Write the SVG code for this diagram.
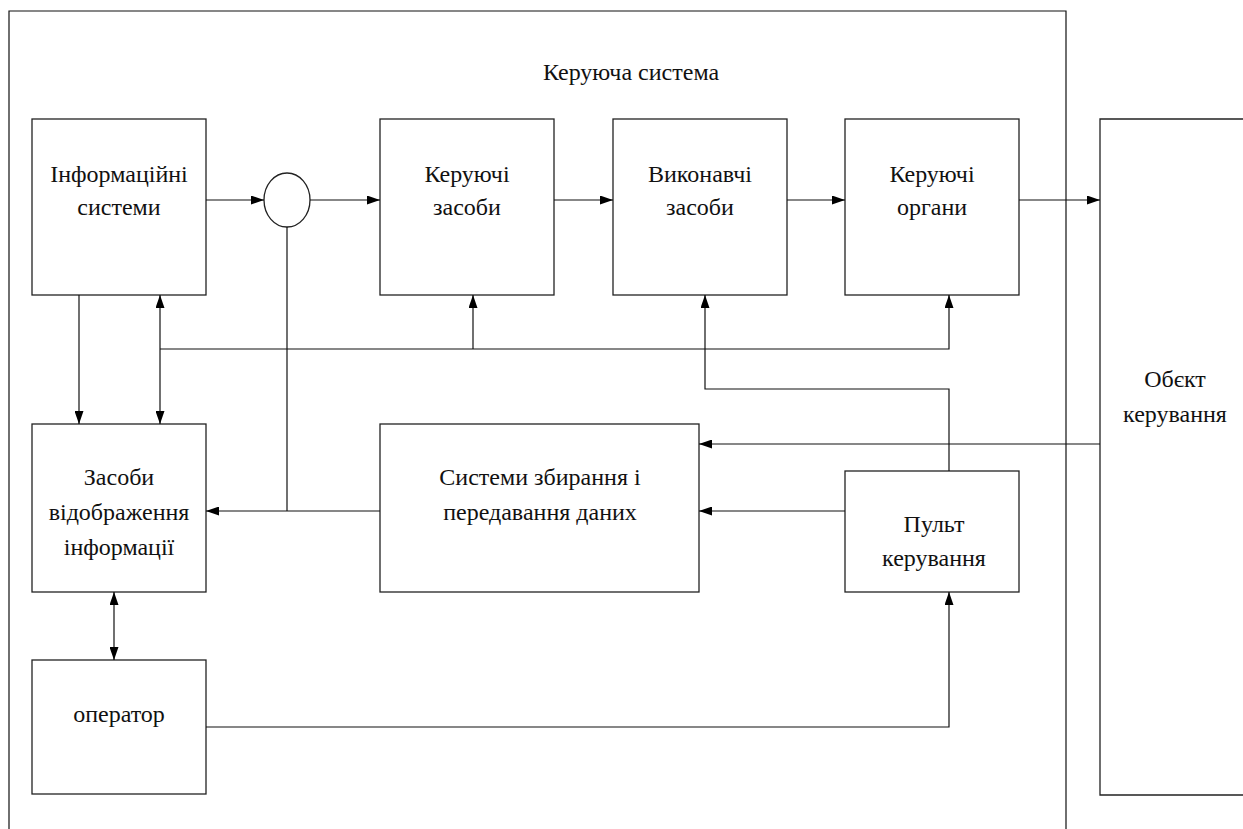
<svg xmlns="http://www.w3.org/2000/svg" width="1243" height="829" viewBox="0 0 1243 829" font-family="Liberation Serif, DejaVu Serif, serif">
<style>
.box{fill:#fff;stroke:#222;stroke-width:1.3}
.ln{fill:none;stroke:#111;stroke-width:1.2}
text{font-family:"Liberation Serif",serif;font-size:24px;fill:#111;text-anchor:middle}
</style>
<defs>
<marker id="ah" viewBox="0 0 13 9" refX="13" refY="4.5" markerWidth="13" markerHeight="9" markerUnits="userSpaceOnUse" orient="auto-start-reverse">
<path d="M0,0 L13,4.5 L0,9 Z" fill="#000"/>
</marker>
</defs>
<rect width="1243" height="829" fill="#fff"/>
<g id="outer">
<path class="ln" d="M9,829 V11 H1066 V829"/>
<text x="631" y="80" font-family="Liberation Serif">Керуюча система</text>
</g>
<g id="obj">
<path class="box" d="M1250,119 H1100 V795 H1250"/>
<text x="1175" y="387">Обєкт</text>
<text x="1175" y="422">керування</text>
</g>
<g id="info">
<rect class="box" x="32" y="119" width="174" height="176"/>
<text x="119" y="182">Інформаційні</text>
<text x="119" y="215">системи</text>
</g>
<g id="sum">
<ellipse class="box" cx="287" cy="200" rx="23" ry="27"/>
</g>
<g id="kz">
<rect class="box" x="380" y="119" width="174" height="176"/>
<text x="467" y="182">Керуючі</text>
<text x="467" y="215">засоби</text>
</g>
<g id="vz">
<rect class="box" x="613" y="119" width="174" height="176"/>
<text x="700" y="182">Виконавчі</text>
<text x="700" y="215">засоби</text>
</g>
<g id="ko">
<rect class="box" x="845" y="119" width="174" height="176"/>
<text x="932" y="182">Керуючі</text>
<text x="932" y="215">органи</text>
</g>
<g id="zv">
<rect class="box" x="32" y="424" width="174" height="168"/>
<text x="119" y="485">Засоби</text>
<text x="119" y="520">відображення</text>
<text x="119" y="555">інформації</text>
</g>
<g id="sz">
<rect class="box" x="380" y="424" width="319" height="168"/>
<text x="540" y="485">Системи збирання і</text>
<text x="540" y="520">передавання даних</text>
</g>
<g id="pk">
<rect class="box" x="845" y="471" width="174" height="121"/>
<text x="934" y="532">Пульт</text>
<text x="934" y="566">керування</text>
</g>
<g id="op">
<rect class="box" x="32" y="660" width="174" height="134"/>
<text x="119" y="722">оператор</text>
</g>
<g id="connectors">
<path class="ln" d="M206,200 H264" marker-end="url(#ah)"/>
<path class="ln" d="M310,200 H380" marker-end="url(#ah)"/>
<path class="ln" d="M554,200 H613" marker-end="url(#ah)"/>
<path class="ln" d="M787,200 H845" marker-end="url(#ah)"/>
<path class="ln" d="M1019,200 H1100" marker-end="url(#ah)"/>
<path class="ln" d="M287,227 V511"/>
<path class="ln" d="M380,511 H206" marker-end="url(#ah)"/>
<path class="ln" d="M79,295 V424" marker-end="url(#ah)"/>
<path class="ln" d="M160,295 V424" marker-start="url(#ah)" marker-end="url(#ah)"/>
<path class="ln" d="M160,349 H949 V295" marker-end="url(#ah)"/>
<path class="ln" d="M473,349 V295" marker-end="url(#ah)"/>
<path class="ln" d="M949,471 V389 H705 V295" marker-end="url(#ah)"/>
<path class="ln" d="M1100,444 H699" marker-end="url(#ah)"/>
<path class="ln" d="M845,511 H699" marker-end="url(#ah)"/>
<path class="ln" d="M114,592 V660" marker-start="url(#ah)" marker-end="url(#ah)"/>
<path class="ln" d="M206,727 H949 V592" marker-end="url(#ah)"/>
</g>
</svg>
